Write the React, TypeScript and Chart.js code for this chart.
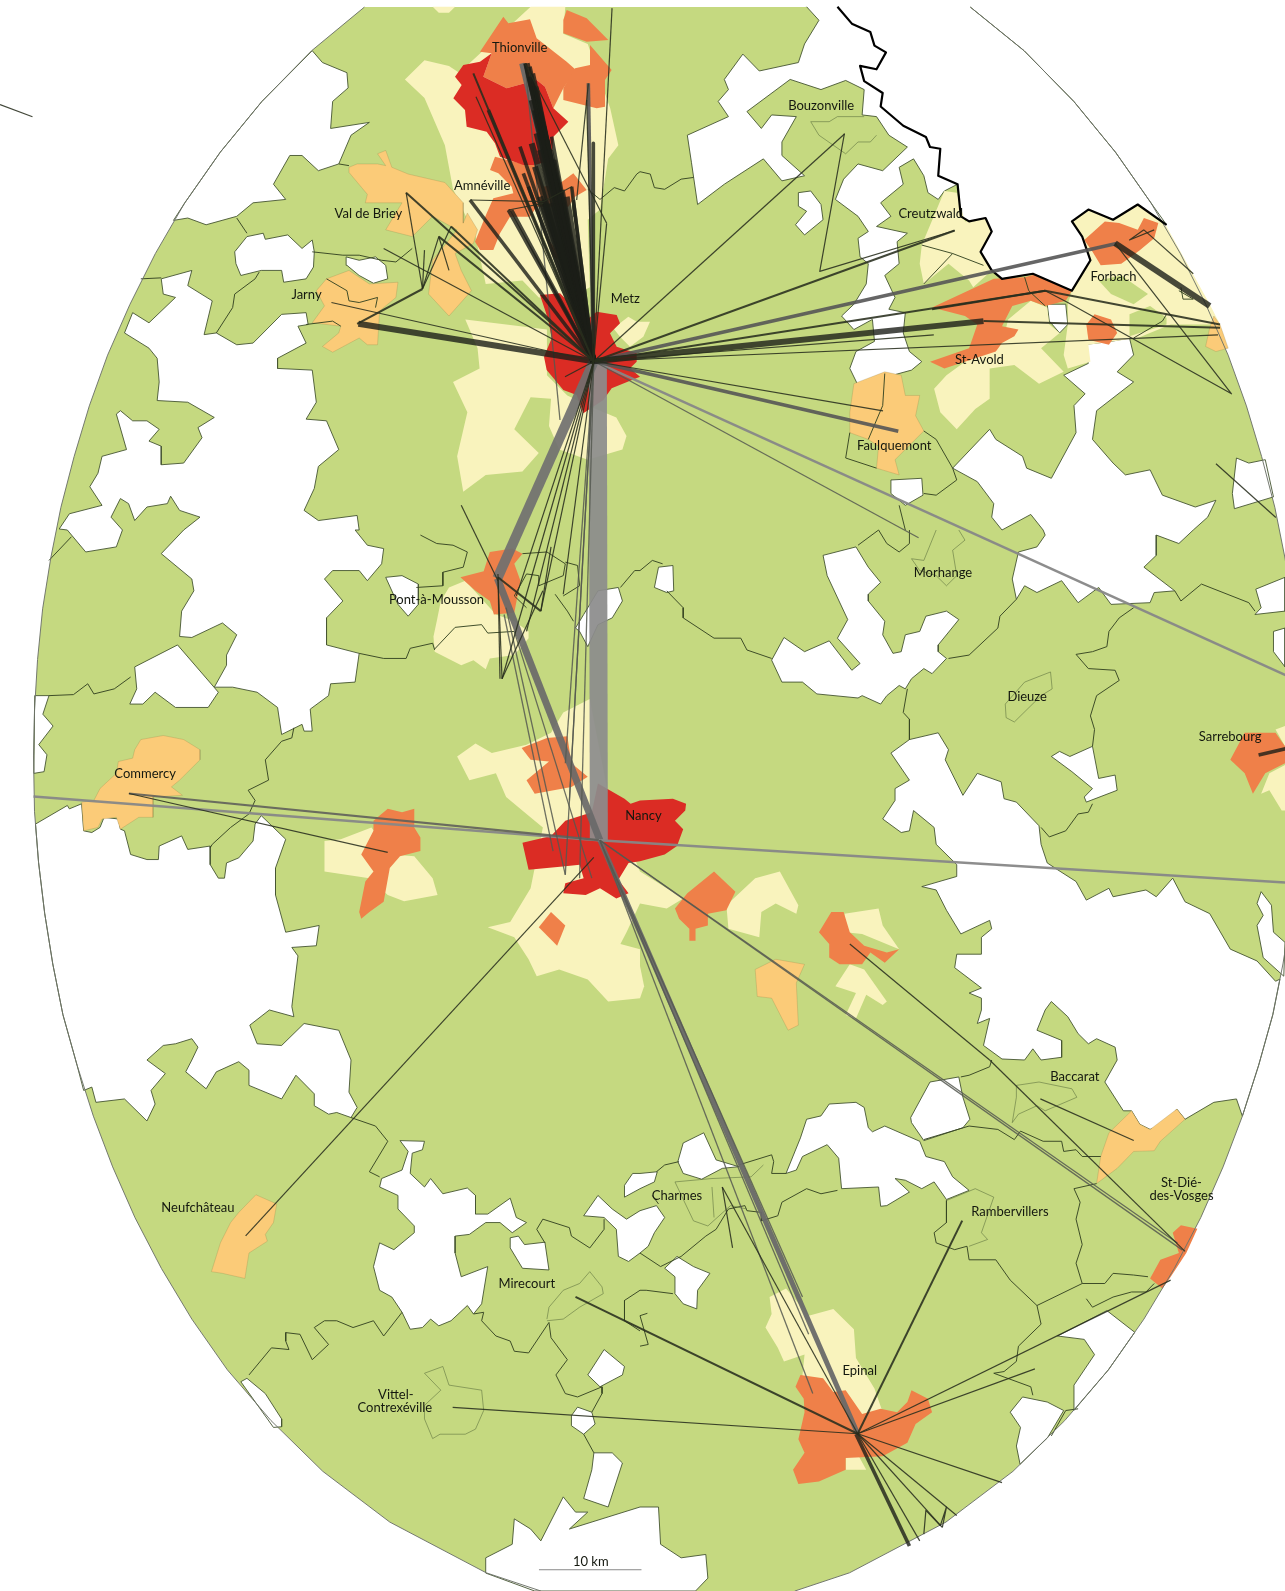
import React, { useEffect, useRef } from "react";
import { Chart, registerables } from "chart.js";

Chart.register(...registerables);

type Pt = { x: number; y: number };
const W = 1285;
const H = 1591;
const SY = 530 / 1568;
const SY2 = 531 / 1568;
const SX1 = 640 / 1568;
const SX2 = 645 / 1568;
const FRAMES: number[][] = [
  [0, 0, 1.015, 1.0147],
  [0, 0, SX1, SY],
  [640, 0, SX2, SY],
  [0, 530, SX1, SY],
  [640, 530, SX2, SY],
  [0, 1060, SX1, SY2],
  [640, 1060, SX2, SY2],
  [420, 0, 1 / 3, 1 / 3],
];
const p = (f: number, ...c: number[]): Pt[] => {
  const [a, b, sx, sy] = FRAMES[f];
  const out: Pt[] = [];
  for (let i = 0; i < c.length; i += 2) out.push({ x: a + c[i] * sx, y: b + c[i + 1] * sy });
  return out;
};

// ---------- territory outline ----------
const studyArea = p(0, 956,7, 1009,50, 1058,100, 1099,150, 1134,200, 1163,250, 1188,300, 1210,350, 1228,400, 1243,450, 1256,500, 1266,550, 1274,600, 1279,650, 1282,700, 1283,745, 1282,800, 1278,850, 1272,900, 1264,950, 1254,1000, 1240,1050, 1224,1100, 1205,1150, 1183,1200, 1157,1250, 1127,1300, 1092,1350, 1049,1400, 998,1450, 932,1500, 837,1550, 783,1568, 783,1600, 533,1600, 533,1568, 479,1550, 384,1500, 318,1450, 267,1400, 224,1350, 189,1300, 159,1250, 133,1200, 111,1150, 92,1100, 76,1050, 62,1000, 52,950, 44,900, 38,850, 34,800, 33,745, 34,700, 37,650, 42,600, 50,550, 60,500, 73,450, 88,400, 106,350, 128,300, 153,250, 182,200, 217,150, 258,100, 307,50, 359,7);

// ---------- areas outside any urban catchment ----------
const whiteNorthEast = [
  ...p(2, 405,20, 435,60, 400,130, 385,185, 290,210, 250,160, 205,235, 215,265, 190,300, 215,345, 115,400, 125,480, 140,605, 205,545, 300,470, 345,535, 400,520, 345,460, 345,420, 380,345, 320,340, 295,380, 260,330, 365,235, 440,265, 500,238, 545,265, 540,340, 575,345, 605,400, 650,435, 590,505, 530,485, 495,530, 475,590, 530,640, 555,685, 530,705, 535,760, 555,780, 550,840, 520,900, 490,935, 520,975, 565,945, 570,1010, 525,1040, 510,1090, 530,1140, 600,1115, 660,1095, 685,1070, 655,1040, 640,985, 645,925, 605,915, 620,880, 595,815, 630,780, 625,715, 650,690, 575,670, 610,640, 585,600, 640,545, 630,495, 665,470, 690,520, 700,570, 725,590, 740,565, 772,545, 780,640, 800,655, 840,645, 855,685, 828,745, 855,800, 880,825, 955,810, 1050,860, 1080,800, 1095,770, 1075,700, 1050,655, 1090,620, 1150,650, 1210,605, 1280,665),
  ...p(0, 1134,200, 1099,150, 1058,100, 1009,50, 956,7),
];
const whiteHoles: Pt[][] = [
  [...p(1, 765,150, 790,185, 850,215, 853,260, 815,300, 810,380, 905,362, 860,400, 830,485, 780,505, 740,460, 710,460, 670,545, 700,590, 620,600, 580,640, 505,665, 460,645, 425,652), ...p(0, 182,200, 217,150, 258,100)],
  p(1, 575,745, 605,700, 645,690, 650,708, 705,695, 740,735, 765,710, 770,745, 768,790, 750,825, 695,835, 690,800, 640,800, 590,815, 578,780),
  p(1, 848,760, 880,770, 920,760, 945,785, 950,825, 915,838, 880,815, 850,785),
  [
    ...p(1, 395,825, 470,800, 460,845, 520,890, 500,990, 530,985, 580,1020, 620,1015, 690,930, 750,925, 755,960, 730,965, 750,1015, 680,1060, 680,1090, 765,1095, 775,1190, 750,1240, 800,1245, 830,1330, 780,1380, 770,1445, 745,1510, 780,1540, 875,1525, 880,1568),
    ...p(3, 870,0, 900,45, 940,55, 935,100, 900,150, 880,120, 815,120, 795,145, 840,210, 800,260, 800,340, 880,365, 870,450, 810,455, 805,490, 760,530, 765,595, 745,595, 740,575, 690,605, 680,525, 630,480, 570,465, 525,465, 555,400, 555,370, 580,310, 545,275, 470,318, 440,315, 445,240, 475,180, 470,145, 395,70, 450,0),
    ...p(1, 490,1530, 440,1510, 418,1468, 410,1490, 360,1500, 330,1540, 315,1490, 295,1475, 272,1530),
    ...p(3, 300,0, 285,50, 210,65, 165,0),
    ...p(1, 145,1565, 170,1520, 250,1495, 220,1440, 240,1400, 250,1350, 310,1330, 285,1225, 295,1215, 325,1245, 360,1245, 390,1270, 365,1305, 395,1320, 395,1375, 450,1370, 495,1295, 485,1265, 525,1235, 460,1190, 385,1185, 390,1130, 385,1060, 365,1030, 305,985, 325,925, 365,955, 430,880, 400,870),
  ],
  p(2, 385,570, 415,565, 440,605, 445,650, 400,695, 378,665, 405,625, 385,610),
  p(2, 990,900, 1035,900, 1040,960, 1020,985, 995,950),
  [
    ...p(2, 1030,1110, 1090,1075, 1075,1020, 1145,1010, 1190,1000, 1200,1050, 1160,1100, 1200,1130, 1110,1215, 1100,1300, 1150,1370, 1180,1405, 1240,1390, 1270,1465, 1350,1500, 1400,1480, 1380,1530, 1345,1568),
    ...p(4, 1310,40, 1255,15, 1255,75, 1225,110, 1300,180, 1250,185, 1240,215, 1145,220, 1115,170, 1065,215, 1025,150, 965,185, 935,165, 915,205, 905,145, 920,65, 965,50, 985,15, 980,0),
    ...p(2, 950,1522, 880,1568, 855,1530, 860,1490, 820,1425, 760,1385, 850,1270, 865,1300, 930,1350, 940,1385, 1000,1415, 1060,1280, 1055,1200, 1082,1165),
  ],
  p(2, 610,1420, 685,1415, 688,1465, 645,1495, 610,1460),
  p(2, 1440,1460, 1450,1355, 1480,1370, 1520,1360, 1540,1470, 1445,1505),
  p(4, 1495,250, 1510,230, 1497,175, 1568,140, 1568,240),
  p(4, 1540,300, 1568,290, 1568,405, 1540,360),
  p(4, 35,170, 45,110, 80,105, 82,180, 65,185),
  p(4, 445,75, 525,50, 555,110, 585,155, 555,190, 555,210, 595,270, 590,310, 615,365, 635,360, 645,310, 680,300, 695,255, 745,240, 775,265, 725,340, 725,360, 745,380, 710,425, 690,410, 660,440, 645,470, 630,460, 600,490, 585,515, 540,490, 530,497, 430,485, 395,450, 345,450, 320,385, 350,318, 400,360, 460,328, 515,415, 535,395, 480,320, 505,265, 455,135),
  [
    ...p(4, 610,660, 655,620, 725,600, 750,650, 742,680, 785,785, 820,720, 878,745, 885,795, 915,805, 970,875, 975,930, 990,985, 1015,1005, 1060,1040, 1085,1095, 1140,1060, 1150,1085, 1230,1065, 1255,1085, 1295,1030, 1325,1100, 1385,1135, 1435,1240, 1500,1275, 1545,1335),
    ...p(0, 1261,965, 1254,1000, 1240,1050, 1224,1100),
    ...p(6, 1450,115, 1395,125, 1325,175, 1305,145, 1270,190, 1240,205, 1215,190, 1195,150, 1175,150, 1130,65, 1160,0),
    ...p(4, 1155,1530, 1110,1505, 1090,1520, 1065,1490, 1040,1440, 1000,1395, 985,1420, 965,1480, 1025,1510, 1025,1560, 975,1568, 955,1535, 935,1568, 880,1565, 835,1525, 850,1445, 820,1460, 830,1420, 830,1385, 800,1370, 830,1355, 765,1295, 770,1255, 830,1255, 830,1205, 855,1180, 850,1155, 780,1195, 745,1125, 720,1065, 685,1055, 770,1025, 770,990, 720,930, 715,880, 665,830, 655,890, 635,895, 590,855, 620,800, 620,765, 655,740),
  ],
  p(4, 1000,670, 1020,655, 1045,670, 1100,640, 1115,735, 1155,725, 1160,770, 1085,805, 1080,790, 1100,765, 1050,715),
  p(4, 1510,1070, 1500,1105, 1515,1140, 1500,1170, 1515,1265, 1565,1320, 1568,1220, 1540,1190, 1535,1110),
  p(3, 330,405, 435,340, 535,480, 510,525, 430,525, 380,480, 350,515, 318,515, 335,470),
  p(3, 85,490, 120,490, 105,545, 130,580, 95,635, 115,665, 108,715, 83,720),
  [
    ...p(3, 87,870, 165,815, 170,825, 200,810, 205,890, 225,895, 245,880, 255,850, 290,855, 295,885, 305,890, 320,960, 360,975, 388,975, 390,935, 445,905, 460,945, 515,935, 515,990, 535,1030, 550,1030, 555,985, 585,970, 620,920, 625,870, 640,845, 700,915, 675,1000, 675,1080, 700,1190, 782,1170, 775,1230, 715,1235, 730,1260, 715,1410, 720,1440, 660,1420, 612,1465, 630,1520, 690,1525, 745,1460, 830,1480, 860,1568),
    ...p(5, 855,95, 875,140, 860,170, 825,155, 805,160, 770,135, 770,100, 725,45, 690,115, 610,75, 610,30, 585,5, 530,35, 505,85, 455,35, 470,0),
    ...p(3, 485,1530, 470,1505, 430,1520, 400,1525, 360,1568),
    ...p(5, 405,40, 370,90, 380,130, 360,180, 305,115, 235,125, 225,80, 205,90),
    ...p(0, 76,1050, 62,1000, 52,950, 44,900, 38,850),
  ],
  p(5, 980,238, 1040,240, 1035,265, 1010,275, 1005,335, 1040,375, 1055,350, 1085,395, 1145,378, 1165,400, 1165,455, 1195,455, 1250,408, 1265,465, 1290,480, 1255,510, 1225,480, 1190,480, 1150,515, 1115,520, 1115,570, 1130,640, 1195,610, 1180,720, 1160,750, 1145,725, 1105,770, 1075,785, 1055,765, 1035,790, 1005,795, 985,745, 960,700, 930,680, 915,610, 930,540, 965,560, 1015,510, 1015,490, 975,440, 975,400, 930,375, 935,350, 985,325, 1000,270),
  p(5, 1250,525, 1270,520, 1285,545, 1335,538, 1345,620, 1280,615, 1265,585, 1250,555),
  [...p(5, 1430,460, 1465,400, 1500,440, 1535,470, 1568,445), ...p(6, 40,430, 60,465, 35,510, 20,550, 0,570), ...p(5, 1540,595, 1515,580, 1510,500, 1480,465)],
  [...p(5, 1530,370, 1550,335, 1568,335), ...p(6, 42,330, 35,360, 0,380), ...p(5, 1530,405)],
  p(6, 92,300, 105,245, 155,215, 185,295, 240,315, 200,320, 150,352, 105,335),
  p(6, 60,615, 90,580, 130,610, 170,630, 140,680, 138,735, 105,720, 85,690, 85,640),
  p(6, 355,335, 390,230, 405,175, 440,165, 460,130, 525,125, 545,140, 555,200, 565,212, 595,195, 680,240, 695,285, 740,300, 760,345, 800,385, 745,412, 715,360, 685,380, 645,355, 620,350, 655,390, 600,430, 585,432, 580,375, 490,380, 483,290, 455,250, 395,285, 380,325),
  p(6, 658,170, 705,65, 775,50, 785,110, 802,175, 785,200, 690,238, 660,185),
  p(5, 1400,1050, 1415,1025, 1450,1040, 1458,1075, 1430,1105, 1400,1080),
  p(5, 1455,1160, 1500,1160, 1525,1190, 1490,1320, 1430,1295, 1450,1210),
  p(5, 1440,930, 1480,855, 1530,905, 1525,930, 1470,965),
  [...p(5, 1190,1515, 1190,1470, 1255,1430, 1260,1355, 1300,1385, 1325,1420, 1380,1290, 1410,1335, 1440,1335, 1395,1385, 1568,1320), ...p(6, 45,1320, 50,1430, 100,1470, 160,1460, 165,1530, 135,1568), ...p(5, 1310,1568)],
  p(5, 590,950, 605,940, 650,985, 690,1060, 690,1083, 670,1085),
  [...p(6, 1015,815, 1135,740), ...p(0, 1118,1313, 1092,1350, 1058,1390), ...p(6, 1055,960, 1105,870, 1080,825)],
  [...p(6, 900,1040, 930,995, 990,1010, 1030,1035), ...p(0, 1032,1417, 1005,1443), ...p(6, 915,1140, 925,1085)],
  p(3, 945,140, 985,135, 1025,160, 1025,220, 1000,255, 975,220),
  p(3, 1410,290, 1430,250, 1465,180, 1515,170, 1525,210, 1500,260, 1465,280, 1440,345, 1420,300),
];

// ---------- pale yellow class ----------
const yellowAreas: Pt[][] = [
  p(1, 992,235, 1040,178, 1100,195, 1125,215, 1300,20, 1385,20, 1380,100, 1440,130, 1495,320, 1515,430, 1490,470, 1470,620, 1440,650, 1445,850, 1400,880, 1320,880, 1280,830, 1190,840, 1165,700, 1110,560, 1090,430, 1040,290),
  p(1, 1060,20, 1115,20, 1100,38, 1075,38),
  p(1, 1140,945, 1340,975, 1340,1110, 1390,1170, 1440,1200, 1510,1235, 1535,1290, 1525,1330, 1440,1360, 1370,1330, 1345,1260, 1350,1180, 1300,1175, 1260,1270, 1320,1340, 1280,1395, 1190,1405, 1135,1455, 1120,1350, 1145,1220, 1110,1130, 1175,1090, 1170,1030),
  p(7, 580,985, 625,950, 650,965, 690,965, 670,1010, 630,1040, 600,1010),
  p(3, 1100,170, 1140,150, 1215,250, 1260,270, 1295,300, 1295,320, 1260,370, 1200,380, 1190,412, 1160,385, 1130,400, 1065,360, 1062,315, 1070,270, 1080,210),
  [...p(3, 1120,670, 1165,632, 1205,660, 1290,635, 1350,600, 1380,540, 1445,500, 1490,780, 1568,1010), ...p(4, 105,1090, 65,1120, 0,1105), ...p(3, 1535,1190, 1520,1225, 1568,1240, 1568,1385, 1490,1395, 1440,1330, 1370,1300, 1315,1320, 1295,1270, 1260,1205, 1195,1175, 1250,1160, 1300,1060, 1330,880, 1290,840, 1240,790, 1215,720, 1150,740)],
  p(4, 0,1290, 10,1350, 0,1385),
  p(3, 795,920, 835,915, 910,880, 960,960, 1015,965, 1060,1030, 1072,1080, 990,1098, 950,1080, 905,1030, 795,1010),
  p(4, 210,1110, 280,1030, 340,1010, 385,1110, 380,1135, 330,1105, 295,1130, 290,1205, 215,1180),
  p(4, 497,1135, 580,1120, 590,1170, 630,1240, 540,1195, 500,1190),
  p(4, 475,1350, 510,1285, 545,1300, 600,1395, 590,1405, 550,1375, 525,1445, 500,1435, 525,1370),
  p(2, 685,725, 740,565, 770,570, 790,655, 840,645, 855,685, 828,745, 855,800, 810,850, 800,830, 750,780, 690,840, 680,780),
  p(2, 1060,650, 1090,620, 1150,650, 1210,605, 1280,670, 1385,900, 1410,960, 1290,960, 1210,1000, 1090,1020, 1095,1070, 1040,1090, 1030,1050, 1040,960, 1040,900, 1050,860, 1080,800, 1095,770, 1075,700, 1050,655),
  p(2, 895,945, 950,890, 990,910, 995,960, 1020,985, 975,1030, 1030,1100, 970,1135, 910,1080, 850,1090, 850,1180, 815,1210, 770,1270, 730,1220, 715,1150, 745,1110, 790,1070, 870,1015, 890,970),
  p(6, 315,700, 355,675, 410,755, 470,735, 520,795, 525,880, 570,970, 590,1040, 500,1100, 550,1210, 500,1210, 500,1150, 420,1000, 395,930, 400,870, 350,890, 335,850, 305,790, 320,750),
  p(4, 1510,780, 1530,720, 1568,695, 1568,830, 1560,830, 1530,770),
  p(4, 1545,590, 1568,580, 1568,640),
];
const greenPatches: Pt[][] = [
  p(2, 1115,830, 1170,815, 1235,870, 1200,900, 1145,870),
  p(2, 1190,930, 1240,905, 1280,940, 1280,960, 1190,995),
];

// ---------- light orange class ----------
const lightOrangeAreas: Pt[][] = [
  p(1, 855,495, 875,485, 925,485, 945,490, 925,455, 945,445, 960,495, 1000,515, 1090,540, 1135,600, 1135,660, 1145,630, 1170,680, 1160,720, 1115,750, 1130,800, 1155,860, 1100,935, 1050,870, 1060,770, 1120,680, 1060,640, 1010,700, 945,680, 985,600, 895,600, 900,575, 855,510),
  p(1, 800,825, 855,800, 905,840, 975,835, 970,880, 930,920, 925,1020, 900,1020, 880,1000, 815,1042, 790,1025, 830,985, 835,965, 765,955, 795,905, 775,860),
  p(3, 330,650, 345,620, 400,608, 450,620, 490,650, 490,680, 440,740, 420,760, 447,785, 375,790, 375,850, 340,850, 295,885, 285,850, 250,855, 240,880, 205,890, 200,805, 230,800, 245,765, 285,720, 290,685, 325,675),
  p(5, 627,398, 678,425, 670,480, 650,515, 655,535, 610,570, 600,645, 545,630, 518,625, 540,540, 565,480, 585,450),
  p(2, 510,1220, 520,1135, 595,1100, 635,1110, 645,1170, 680,1170, 670,1230, 690,1275, 620,1360, 630,1405, 575,1385, 580,1320, 555,1300, 510,1280),
  p(4, 280,1300, 330,1270, 400,1285, 380,1340, 385,1465, 360,1480, 320,1385, 285,1380),
  p(6, 1140,215, 1195,150, 1215,190, 1240,205, 1305,145, 1325,175, 1265,240, 1250,268, 1200,270, 1160,320, 1110,365, 1120,285),
  p(2, 1395,935, 1410,960, 1430,1030, 1400,1040, 1375,1025, 1385,970),
];

// ---------- orange class ----------
const orangeAreas: Pt[][] = [
  p(7, 180,155, 250,50, 265,70, 330,58, 350,115, 440,185, 468,210, 430,265, 400,325, 375,260, 350,240, 260,265, 190,230, 215,160),
  p(7, 430,60, 440,30, 500,55, 565,120, 500,125, 430,100),
  p(7, 510,135, 575,210, 555,240, 555,320, 530,325, 430,300, 430,265, 465,205, 510,195),
  p(7, 225,470, 300,490, 345,495, 370,560, 420,550, 460,520, 500,570, 465,590, 445,620, 350,620, 330,650, 270,650, 240,700, 220,750, 180,750, 165,725, 200,640, 220,595, 280,580, 275,560, 235,520, 210,510),
  p(7, 380,710, 435,790, 400,770),
  p(2, 710,910, 860,825, 935,820, 960,812, 1050,860, 1035,890, 985,905, 950,890, 905,905, 880,965, 920,975, 910,995, 880,1015, 865,1040, 740,1090, 705,1070, 800,1030, 820,960, 790,935),
  p(2, 1080,710, 1130,655, 1165,660, 1210,680, 1225,645, 1260,660, 1250,705, 1215,740, 1170,780, 1120,785, 1100,745),
  p(2, 1085,960, 1105,930, 1145,945, 1160,985, 1140,1020, 1090,1005),
  p(3, 1128,140, 1185,122, 1200,65, 1255,55, 1280,70, 1260,100, 1275,150, 1260,245, 1210,250, 1200,210, 1165,180),
  p(3, 1278,645, 1340,615, 1390,610, 1400,690, 1440,730, 1400,760, 1310,780, 1290,740, 1345,685, 1300,680),
  p(3, 915,860, 950,825, 985,835, 1015,825, 1015,880, 1030,910, 1030,950, 980,965, 955,1000, 940,1100, 905,1130, 885,1150, 880,1130, 895,1040, 915,1010, 885,960, 915,890),
  p(3, 1320,1175, 1350,1130, 1385,1170, 1365,1230),
  p(4, 85,1120, 115,1075, 180,1010, 232,1070, 210,1125, 165,1135, 165,1170, 135,1180, 135,1215, 120,1215, 120,1180, 95,1150),
  p(4, 435,1190, 465,1130, 495,1130, 510,1190, 545,1230, 600,1250, 630,1240, 595,1280, 560,1250, 540,1285, 485,1285, 460,1265, 460,1225),
  p(4, 1435,680, 1470,600, 1545,600, 1568,640, 1568,690, 1520,720, 1490,780, 1470,720),
  p(6, 378,965, 390,930, 445,940, 470,980, 500,975, 540,1045, 585,1030, 625,1040, 650,1010, 660,975, 700,1000, 710,1040, 670,1075, 650,1130, 590,1170, 500,1175, 500,1210, 435,1245, 385,1252, 372,1210, 400,1160, 385,1120, 400,1040, 398,1000),
  p(6, 1295,510, 1315,488, 1355,498, 1328,570, 1285,650, 1270,675, 1240,645, 1265,590, 1310,570),
];

// ---------- red class ----------
const redAreas: Pt[][] = [
  p(7, 105,230, 130,195, 180,185, 215,160, 190,230, 260,265, 350,240, 375,260, 400,325, 445,365, 400,410, 395,480, 345,495, 310,495, 240,470, 225,430, 200,395, 140,380, 135,330, 100,295, 125,255),
  p(7, 360,885, 420,880, 500,960, 530,935, 590,945, 600,970, 570,1000, 590,1040, 650,1060, 650,1085, 630,1105, 660,1130, 575,1165, 550,1200, 490,1240, 470,1185, 430,1170, 380,1110, 372,1070, 395,1015, 385,960),
  [...p(3, 1280,925, 1350,905, 1385,860, 1450,835, 1465,750, 1530,795, 1545,810, 1568,800), ...p(4, 80,795, 112,810, 110,830, 85,860, 105,885, 90,935, 60,960, 0,980), ...p(3, 1540,985, 1515,1035, 1540,1075, 1510,1090, 1470,1060, 1435,1080, 1380,1075, 1385,1045, 1430,1030, 1420,990, 1385,995, 1295,1005)],
];

// ---------- zone boundaries ----------
const zoneBoundaries: Pt[][] = [
  [...p(1, 1440,560, 1470,590, 1505,555, 1530,565, 1560,515, 1568,508), ...p(2, 25,515, 35,555, 60,560, 100,530, 130,525)],
  p(1, 765,745, 840,755, 880,755, 935,770, 970,775, 1010,735),
  p(1, 580,645, 605,690),
  p(1, 635,805, 625,825, 575,870, 570,910, 530,985),
  p(1, 345,825, 395,822),
  p(1, 750,960, 815,950, 835,965),
  p(1, 800,825, 850,860, 855,890, 880,895, 925,880, 920,910),
  p(1, 830,485, 855,490),
  p(3, 1030,15, 1070,40, 1110,45, 1145,65, 1135,110, 1085,125, 1085,165, 1020,170),
  p(3, 1065,352, 1115,288, 1180,280, 1195,305, 1260,300),
  p(3, 880,365, 940,380, 995,380, 1005,350, 1060,335, 1065,355),
  p(3, 1360,190, 1390,240, 1405,270),
  p(3, 1280,70, 1340,65, 1385,100, 1380,135, 1320,165, 1320,135, 1290,130, 1260,195, 1290,230),
  p(3, 1380,195, 1420,165, 1415,105, 1385,95),
  [...p(3, 1520,170, 1555,120, 1568,120), ...p(4, 30,90, 55,100)],
  p(4, 65,180, 105,230, 105,260, 180,320, 245,320, 260,355, 320,380),
  p(4, 530,45, 580,0),
  p(4, 580,0, 600,40, 630,65, 655,40, 655,0),
  p(4, 750,380, 800,370, 870,290, 875,255, 915,205),
  p(4, 650,470, 640,540, 655,560, 655,620),
  p(4, 1200,230, 1165,260, 1140,300, 1135,345, 1100,360, 1060,368, 1090,410, 1155,415, 1165,445, 1110,490, 1095,550, 1105,590, 1100,640),
  p(4, 1100,810, 1090,835, 1065,840, 1035,890, 995,908, 975,880),
  p(4, 1495,240, 1480,215, 1365,160, 1315,210, 1300,180),
  p(3, 720,585, 715,615, 690,625, 650,680, 658,740, 608,770, 625,800, 610,840, 565,880, 520,930, 515,940),
  p(3, 120,90, 175,20),
  p(3, 120,490, 180,487, 215,455, 230,485, 280,470, 320,435),
  p(5, 860,170, 920,195, 950,240, 905,330, 930,345),
  p(5, 985,745, 940,815, 915,770, 865,790, 825,770, 795,770, 770,790, 805,840, 765,885, 735,810, 700,805, 700,830, 708,855, 665,850, 610,930),
  p(5, 1160,750, 1185,745, 1180,770, 1215,815, 1250,830, 1260,860, 1295,865, 1345,775, 1350,820, 1390,885, 1362,930, 1385,985, 1415,995, 1475,965, 1475,985, 1450,1040),
  p(5, 1430,1105, 1455,1160),
  p(5, 1335,540, 1315,500, 1330,470, 1395,495, 1400,520, 1445,555, 1480,500, 1480,470),
  p(5, 1568,680, 1530,710, 1530,770, 1568,800),
  p(6, 0,680, 15,680, 80,690),
  p(6, 18,748, 0,755, 20,840, 0,845),
  p(6, 95,300, 60,310, 40,330),
  p(6, 45,425, 30,400),
  p(6, 0,570, 50,610, 100,580, 160,520, 185,500, 215,440, 255,430, 260,445, 295,450, 295,475, 335,460, 345,420, 405,380, 440,395, 480,385),
  p(6, 240,310, 320,280, 325,300, 320,335, 355,335),
  p(6, 745,415, 745,480, 715,510, 720,540, 765,560, 795,550, 800,590, 865,590, 900,650, 965,725, 1075,660, 1130,660, 1150,630, 1200,635, 1235,640),
  p(6, 965,725, 975,780, 920,845, 915,890, 885,920, 860,925, 950,965, 955,990),
  p(6, 1075,660, 1060,600, 1075,545, 1060,470, 1070,420, 1055,380, 1110,365),
  p(6, 690,235, 800,195, 870,205, 910,235, 925,210, 980,240, 1025,240, 1030,270, 1060,265, 1075,285, 1120,285),
  p(6, 1085,705, 1100,730, 1150,700, 1195,685, 1230,685, 1250,660),
  p(6, 1000,1110, 1035,1035, 1065,1030),
  p(6, 780,50, 800,45, 850,20, 855,0),
  p(2, 685,725, 760,750, 835,785),
  p(2, 760,750, 690,840),
  p(2, 935,820, 945,860, 985,905),
  p(2, 1315,850, 1320,885, 1345,885, 1310,860),
  p(2, 1280,930, 1270,950, 1200,1000),
  p(2, 510,1280, 500,1355, 575,1385),
  p(2, 595,1105, 590,1200, 555,1300),
  p(2, 690,1275, 720,1300, 760,1385, 770,1420, 720,1465, 690,1460),
  p(2, 630,1495, 645,1568),
];

const townOutlines: Pt[][] = [
  p(2, 545,345, 480,345, 460,360, 415,360, 435,400, 500,455, 530,420, 560,420, 575,400),
  p(4, 720,0, 690,90, 660,85, 680,120, 720,135, 745,165, 770,135, 760,60, 790,30, 775,0),
  p(4, 890,555, 888,515, 935,450, 998,420, 1002,470, 975,490, 910,568, 890,555),
  p(6, 85,360, 130,475, 165,490, 220,430, 260,440),
  p(6, 85,360, 175,350, 270,345, 300,310),
  p(6, 175,375, 180,465),
  p(5, 1340,765, 1345,730, 1380,680, 1420,660, 1445,625, 1475,670, 1478,690, 1420,730, 1380,765, 1340,770),
  p(5, 1040,925, 1085,905, 1100,960, 1180,975, 1185,1035, 1165,1090, 1140,1105, 1078,1105, 1060,1118, 1040,1060, 1040,1020, 1080,975, 1040,925),
  p(6, 745,415, 815,380, 860,405, 830,510, 845,530, 800,550),
  p(6, 915,75, 970,65, 1050,85, 1062,110, 985,150, 965,135, 920,160, 905,185, 915,110, 915,75),
];

const nationalBorder = p(2, 480,20, 515,70, 560,95, 570,135, 598,155, 575,205, 535,195, 545,240, 590,275, 585,315, 640,372, 695,405, 705,435, 730,440, 725,520, 772,545, 780,640, 800,655, 840,645, 855,685, 828,745, 855,800, 880,825, 955,810, 1050,860, 1080,800, 1095,770, 1075,700, 1050,655, 1090,620, 1150,650, 1210,605, 1280,665);

// ---------- flows: hubs ----------
const METZ = [585, 356];
const NANCY = [591, 828];
const EPINAL = [845, 1413];
const PAM = [490, 570];
const MZ = [520, 1085];
const fromMetz7 = (...c: number[]) => { const o: Pt[][] = []; for (let i = 0; i < c.length; i += 2) o.push([...p(7, c[i], c[i + 1]), ...p(7, MZ[0], MZ[1])]); return o; };
const fromMetz = (f: number, ...c: number[]) => { const o: Pt[][] = []; for (let i = 0; i < c.length; i += 2) o.push([...p(f, c[i], c[i + 1]), ...p(0, METZ[0], METZ[1])]); return o; };
const fromEpinal = (f: number, ...c: number[]) => { const o: Pt[][] = []; for (let i = 0; i < c.length; i += 2) o.push([...p(f, c[i], c[i + 1]), ...p(0, EPINAL[0], EPINAL[1])]); return o; };
const fromNancy = (f: number, ...c: number[]) => { const o: Pt[][] = []; for (let i = 0; i < c.length; i += 2) o.push([...p(f, c[i], c[i + 1]), ...p(0, NANCY[0], NANCY[1])]); return o; };

const flowMetzNancy: Pt[][] = [p(0, 589,356, 590,828)];
const flowMetzPam: Pt[][] = [p(0, METZ[0],METZ[1], PAM[0],PAM[1])];
const flowPamNancy: Pt[][] = [p(0, PAM[0],PAM[1], NANCY[0],NANCY[1])];
const flowNancyEpinal: Pt[][] = [p(0, NANCY[0],NANCY[1], EPINAL[0],EPINAL[1]), ...fromMetz7(305,190)];
const flowGreyMid: Pt[][] = [...fromMetz(0, 1100,240, 885,425), ...fromMetz7(505,250)];
const flowCommercy: Pt[][] = [p(0, 127,782, 590,828)];
const flowGreyLight: Pt[][] = [p(0, 33,785, 590,828, 1270,870), ...fromMetz(0, 1270,667)];
const flowGreyThin: Pt[][] = [
  ...fromNancy(0, 1165,1232, 1160,1225),
  ...fromMetz(0, 905,530),
  ...fromMetz(3, 1385,690, 1395,800, 1385,1020, 1420,1030),
  p(7, 315,190, 420,1260),
  p(3, 1235,250, 1355,950),
  p(3, 1240,230, 1385,1020),
  p(3, 1260,300, 1450,1030),
  ...fromNancy(6, 410,810, 420,985, 395,700),
];
const flowDarkThick: Pt[][] = [
  ...fromMetz(1, 878,958),
  ...fromMetz(2, 835,950),
  ...fromMetz7(320,190, 335,300, 345,330, 370,600, 360,590, 330,230, 340,260, 350,300, 360,340, 370,380, 380,420, 390,450, 400,480, 375,610, 390,610, 350,400, 360,450, 345,500, 335,430, 410,540, 425,570, 440,590),
  p(2, 1155,720, 1385,905),
];
const flowDarkMedium: Pt[][] = [
  ...fromMetz7(520,430, 265,630, 275,630, 430,610, 405,610, 420,610, 300,440, 395,410, 205,330, 150,600, 455,560, 330,200, 350,260, 315,190, 340,220, 325,560, 310,520, 460,600),
  p(0, 1240,744, 1270,737),
  p(6, 525,1105, 655,1435),
];
const flowDarkLight: Pt[][] = [
  ...fromMetz(1, 995,570, 1105,670, 1075,700),
  ...fromMetz(2, 985,860, 765,682),
  ...fromMetz7(160,220),
  p(2, 710,915, 985,860, 1410,960),
  p(2, 835,950, 1410,970),
  p(3, 1220,140, 1325,240),
  p(1, 875,958, 1035,855),
  ...fromEpinal(0, 948,1203, 567,1278),
];
const flowDarkThin: Pt[][] = [
  ...fromMetz(1, 940,735, 812,895),
  ...fromMetz(0, 603,8, 832,132, 920,330, 1200,330, 870,405),
  ...fromMetz7(168,290, 560,670, 500,300, 435,1130),
  ...fromMetz(3, 1230,440, 1325,240, 1265,195, 1290,300, 1380,190),
  p(7, 315,190, 560,670),
  p(7, 505,250, 470,600),
  p(7, 150,600, 370,605, 455,560, 460,650),
  p(7, 265,630, 370,610),
  p(2, 497,395, 437,803, 765,682),
  p(2, 1225,680, 1345,810),
  p(2, 1225,680, 1190,710, 1250,680),
  p(2, 1155,720, 1438,1165, 1195,1000, 1040,895, 985,860),
  p(1, 1035,855, 1040,740),
  p(1, 1035,855, 995,570),
  p(1, 1035,855, 1075,700, 1100,800),
  p(1, 1035,855, 1105,670),
  p(3, 1225,440, 1220,130),
  [...p(1, 1130,1495), ...p(3, 1220,150)],
  p(3, 1220,140, 1230,440),
  p(3, 1230,440, 1330,180),
  p(3, 1325,240, 1350,50),
  p(0, 127,782, 382,840),
  p(0, 242,1218, 585,845),
  p(0, 1198,457, 1257,510),
  p(0, 1117,1124, 1025,1083),
  p(4, 510,1225, 850,1568),
  [...p(4, 850,1568), ...p(6, 1325,565)],
  ...fromEpinal(0, 446,1387),
  ...fromEpinal(6, 1290,650, 960,912, 880,1248, 680,1420, 735,1380, 770,1345, 200,375),
  p(6, 200,375, 225,555),
  p(6, 690,1400, 695,1330, 730,1375, 745,1320, 735,1380),
  p(0, 0,103, 32,115),
];

// ---------- place names ----------
const placeNames = ["Thionville", "Bouzonville", "Amnéville", "Creutzwald", "Val de Briey", "Jarny", "Forbach", "Metz", "St-Avold", "Faulquemont", "Morhange", "Pont-à-Mousson", "Dieuze", "Sarrebourg", "Commercy", "Nancy", "Baccarat", "St-Dié-", "des-Vosges", "Charmes", "Rambervillers", "Neufchâteau", "Mirecourt", "Epinal", "Vittel-", "Contrexéville", "10 km"];
const placeAnchors = p(0, 512,47, 809,104, 475,183, 917,211, 363,211, 302,291, 1097,273, 616,294, 965,355, 881,439, 929,565, 430,591, 1012,687, 1212,726, 143,763, 634,804, 1059,1061, 1164,1166, 1164,1178, 667,1178, 995,1194, 195,1190, 519,1265, 847,1351, 390,1375, 389,1387, 582,1539);
const scaleBar = p(0, 531,1547, 632,1547);

// ---------- styles ----------
const GREEN = "#C5D980";
const YELLOW = "#F9F3BD";
const LIGHT_ORANGE = "#FBCB78";
const ORANGE = "#EF8049";
const RED = "#DB2C24";
const EDGE = "rgba(70,85,50,0.9)";
const ZONE = "rgba(55,70,35,0.95)";
const DARK = "rgba(28,30,24,0.8)";

const closed = (pts: Pt[]) => [...pts, pts[0]];
const area = (data: Pt[], color: string, borderColor = "rgba(0,0,0,0)", borderWidth = 0) => ({
  data, showLine: true, fill: "shape", backgroundColor: color, borderColor, borderWidth,
  pointRadius: 0, tension: 0, borderJoinStyle: "round",
});
const stroke = (data: Pt[], color: string, width: number, cap = "butt") => ({
  data, showLine: true, fill: false, borderColor: color, borderWidth: width,
  pointRadius: 0, tension: 0, borderCapStyle: cap, borderJoinStyle: "round",
});
const flowGroup = (lines: Pt[][], color: string, width: number) => lines.map((l) => stroke(l, color, width));

const layers: any[] = [
  area(studyArea, GREEN),
  area(whiteNorthEast, "#FFFFFF", EDGE, 1),
  ...whiteHoles.map((h) => area(closed(h), "#FFFFFF", EDGE, 1)),
  ...yellowAreas.map((a) => area(closed(a), YELLOW)),
  ...greenPatches.map((a) => area(closed(a), GREEN)),
  ...lightOrangeAreas.map((a) => area(closed(a), LIGHT_ORANGE, "rgba(120,110,60,0.35)", 0.6)),
  ...orangeAreas.map((a) => area(closed(a), ORANGE)),
  ...redAreas.map((a) => area(closed(a), RED)),
  ...zoneBoundaries.map((l) => stroke(l, ZONE, 1)),
  ...townOutlines.map((l) => stroke(l, "rgba(90,110,60,0.7)", 0.8)),
  stroke(studyArea, "rgba(110,115,105,0.95)", 1),
  stroke(nationalBorder, "#000000", 2.2),
  stroke(scaleBar, "#8a8a8a", 1),
  ...flowGroup(flowMetzNancy, "rgba(140,140,140,0.93)", 18),
  ...flowGroup(flowMetzPam, "rgba(112,112,112,0.92)", 10),
  ...flowGroup(flowPamNancy, "rgba(105,105,105,0.92)", 7),
  ...flowGroup(flowNancyEpinal, "rgba(105,105,105,0.95)", 5),
  ...flowGroup(flowGreyLight, "rgba(135,135,135,0.95)", 2.5),
  ...flowGroup(flowGreyMid, "rgba(85,85,85,0.9)", 3.5),
  ...flowGroup(flowCommercy, "rgba(95,95,90,0.9)", 2.2),
  ...flowGroup(flowGreyThin, "rgba(85,88,80,0.85)", 1.3),
  ...flowGroup(flowDarkThick, DARK, 6),
  ...flowGroup(flowDarkMedium, DARK, 3.6),
  ...flowGroup(flowDarkLight, "rgba(40,45,30,0.88)", 2),
  ...flowGroup(flowDarkThin, "rgba(40,45,30,0.88)", 1.2),
];

const labelPlugin = {
  id: "placeLabels",
  afterDatasetsDraw(chart: any) {
    const { ctx, scales } = chart;
    ctx.save();
    ctx.font = "13px Lato, 'Open Sans', sans-serif";
    ctx.textAlign = "center";
    ctx.textBaseline = "middle";
    ctx.fillStyle = "#14180f";
    placeNames.forEach((name, i) => {
      const a = placeAnchors[i];
      ctx.fillText(name, scales.x.getPixelForValue(a.x), scales.y.getPixelForValue(a.y));
    });
    ctx.restore();
  },
};

export default function App() {
  const ref = useRef<HTMLCanvasElement>(null);
  useEffect(() => {
    const chart = new Chart(ref.current!, {
      type: "scatter",
      data: { datasets: layers.map((d, i) => ({ ...d, order: layers.length - i })) },
      plugins: [labelPlugin],
      options: {
        animation: false,
        responsive: false,
        devicePixelRatio: 1,
        layout: { padding: 0 },
        events: [],
        plugins: { legend: { display: false }, tooltip: { enabled: false }, filler: { propagate: false } },
        scales: {
          x: { type: "linear", display: false, min: 0, max: W },
          y: { type: "linear", display: false, reverse: true, min: 0, max: H },
        },
      },
    } as any);
    return () => chart.destroy();
  }, []);
  return (
    <canvas
      ref={ref}
      width={W}
      height={H}
      style={{ position: "fixed", left: 0, top: 0, width: W, height: H, display: "block", background: "#fff" }}
    />
  );
}
